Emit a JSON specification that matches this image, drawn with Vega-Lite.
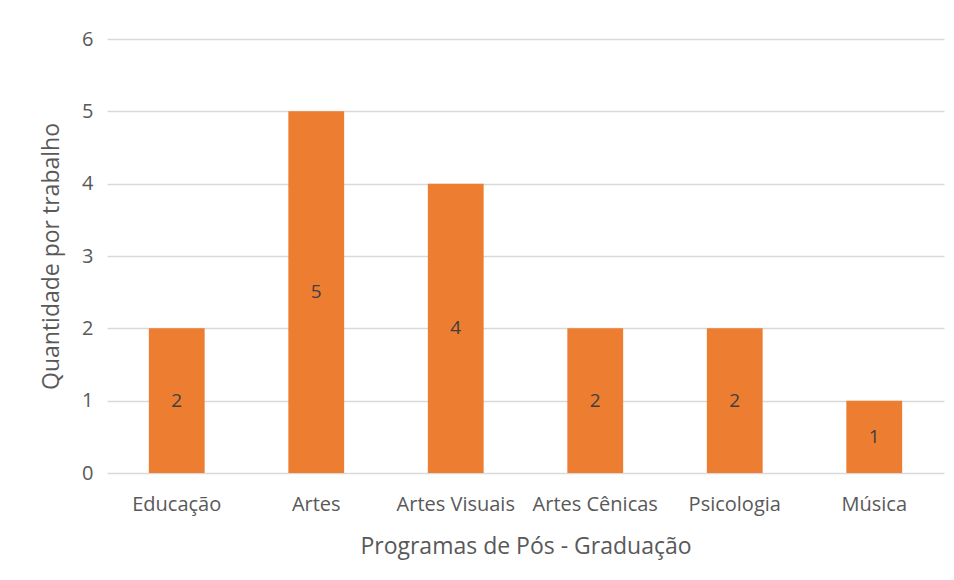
{
  "$schema": "https://vega.github.io/schema/vega-lite/v6.json",
  "autosize": "none",
  "width": 837,
  "height": 434,
  "padding": {"left": 107, "top": 39, "right": 10, "bottom": 107},
  "background": "white",
  "data": {"values": [
    {"programa": "Educação", "quantidade": 2},
    {"programa": "Artes", "quantidade": 5},
    {"programa": "Artes Visuais", "quantidade": 4},
    {"programa": "Artes Cênicas", "quantidade": 2},
    {"programa": "Psicologia", "quantidade": 2},
    {"programa": "Música", "quantidade": 1}
  ]},
  "encoding": {
    "x": {"field": "programa", "type": "nominal", "sort": null,
      "scale": {"paddingInner": 0.6, "paddingOuter": 0.3},
      "axis": {"title": "Programas de Pós - Graduação", "labelAngle": 0, "domain": false, "ticks": false,
        "labelPadding": 21, "titlePadding": 21, "labelFontSize": 20, "titleFontSize": 23}}
  },
  "layer": [
    {"mark": {"type": "bar", "color": "#ed7d31"},
     "encoding": {
       "y": {"field": "quantidade", "type": "quantitative",
         "scale": {"domain": [0, 6]},
         "axis": {"title": "Quantidade por trabalho", "values": [0,1,2,3,4,5,6], "labelOverlap": false, "domain": false, "ticks": false,
           "labelPadding": 14, "titlePadding": 18, "labelFontSize": 20, "titleFontSize": 23, "grid": true}}
     }},
    {"mark": {"type": "text", "color": "#404040", "fontSize": 19, "font": "Open Sans", "baseline": "middle"},
     "encoding": {
       "y": {"field": "quantidade", "type": "quantitative", "scale": {"domain": [0, 12]}, "axis": null},
       "text": {"field": "quantidade"}}}
  ],
  "resolve": {"scale": {"y": "independent"}},
  "config": {
    "view": {"stroke": null},
    "font": "Open Sans",
    "axis": {"labelColor": "#595959", "titleColor": "#595959", "labelFont": "Open Sans", "titleFont": "Open Sans",
      "titleFontWeight": "normal", "gridColor": "#d9d9d9", "gridWidth": 1.3},
    "axisX": {"grid": false}
  }
}
